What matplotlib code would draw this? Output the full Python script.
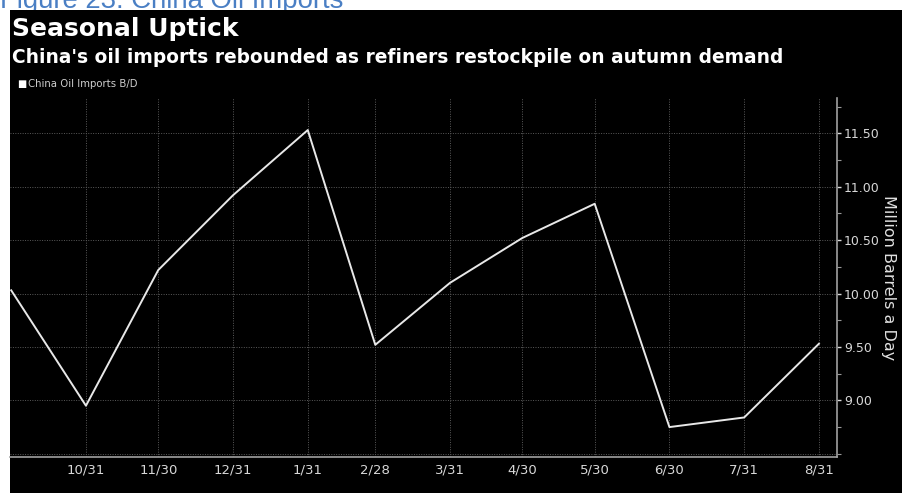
import matplotlib
matplotlib.use("Agg")
import matplotlib.pyplot as plt
import matplotlib.dates as mdates
from matplotlib.patches import Rectangle
from matplotlib.ticker import MultipleLocator
import pandas as pd

# Month-end China oil imports, million barrels a day
dates = pd.to_datetime([
    "2018-09-30", "2018-10-31", "2018-11-30", "2018-12-31", "2019-01-31",
    "2019-02-28", "2019-03-31", "2019-04-30", "2019-05-30", "2019-06-30",
    "2019-07-31", "2019-08-31",
])
imports = [10.03, 8.95, 10.22, 10.92, 11.53, 9.52, 10.10, 10.52, 10.84, 8.75, 8.84, 9.53]

tick_dates = dates[1:]
tick_labels = ["10/31", "11/30", "12/31", "1/31", "2/28", "3/31", "4/30",
               "5/30", "6/30", "7/31", "8/31"]
y_ticks = [9.00, 9.50, 10.00, 10.50, 11.00, 11.50]

fig = plt.figure(figsize=(9.02, 4.93), dpi=100)
fig.patch.set_facecolor("white")

# black chart panel under a thin white strip
fig.patches.append(Rectangle((10 / 902, 0), 1, 1 - 10 / 493, transform=fig.transFigure,
                             facecolor="black", edgecolor="none", zorder=-2))

# caption running off the top edge
fig.text(0.0, 1 - 8 / 493, "Figure 23: China Oil Imports", color="#4a7fc4",
         fontsize=19.8, family="Liberation Sans", va="baseline", ha="left", zorder=-3)

fig.text(12 / 902, 1 - 36 / 493, "Seasonal Uptick", color="white", fontsize=18,
         fontweight="bold", va="baseline")
fig.text(12 / 902, 1 - 63 / 493,
         "China's oil imports rebounded as refiners restockpile on autumn demand",
         color="white", fontsize=13.4, fontweight="bold", va="baseline")

# legend: square marker plus series name
fig.text(17 / 902, 1 - 87 / 493, "\u25a0", color="white", fontsize=7, va="baseline")
fig.text(28 / 902, 1 - 87 / 493, "China Oil Imports B/D", color="#cfcfcf",
         fontsize=7.3, va="baseline")

ax = fig.add_axes([10 / 902, 1 - 457 / 493, (837 - 10) / 902, (457 - 98) / 493])
ax.set_facecolor("none")
ax.plot(dates, imports, color="#e8e8e8", linewidth=1.4, zorder=3)

ax.set_xlim(pd.Timestamp("2018-09-29 12:00"), pd.Timestamp("2019-09-07 12:00"))
ax.set_ylim(8.47, 11.83)

ax.set_xticks(mdates.date2num(tick_dates))
ax.set_xticklabels(tick_labels)
ax.yaxis.tick_right()
ax.yaxis.set_label_position("right")
ax.set_yticks(y_ticks)
ax.set_yticklabels([f"{v:.2f}" for v in y_ticks])
ax.yaxis.set_minor_locator(MultipleLocator(0.25))

ax.tick_params(axis="x", colors="#d8d8d8", labelsize=9.5, length=0, pad=5)
ax.tick_params(axis="y", which="major", colors="#d8d8d8", labelsize=9,
               length=3, width=1, direction="out", pad=2)
ax.tick_params(axis="y", which="minor", colors="#999999", length=3, width=0.8,
               direction="out")

# dotted grid
ax.grid(True, axis="x", color="#5a5a5a", linestyle=(0, (1, 1.5)), linewidth=0.7)
for v in [8.50] + y_ticks:
    ax.axhline(v, color="#5a5a5a", linestyle=(0, (1, 1.5)), linewidth=0.7, zorder=1)

for side in ["left", "top"]:
    ax.spines[side].set_visible(False)
for side in ["right", "bottom"]:
    ax.spines[side].set_color("#a0a0a0")
    ax.spines[side].set_linewidth(1.2)

ax.set_ylabel("Million Barrels a Day", color="#e0e0e0", fontsize=11.5,
              rotation=270, labelpad=12)

fig.savefig("out.png", dpi=100, facecolor=fig.get_facecolor())
